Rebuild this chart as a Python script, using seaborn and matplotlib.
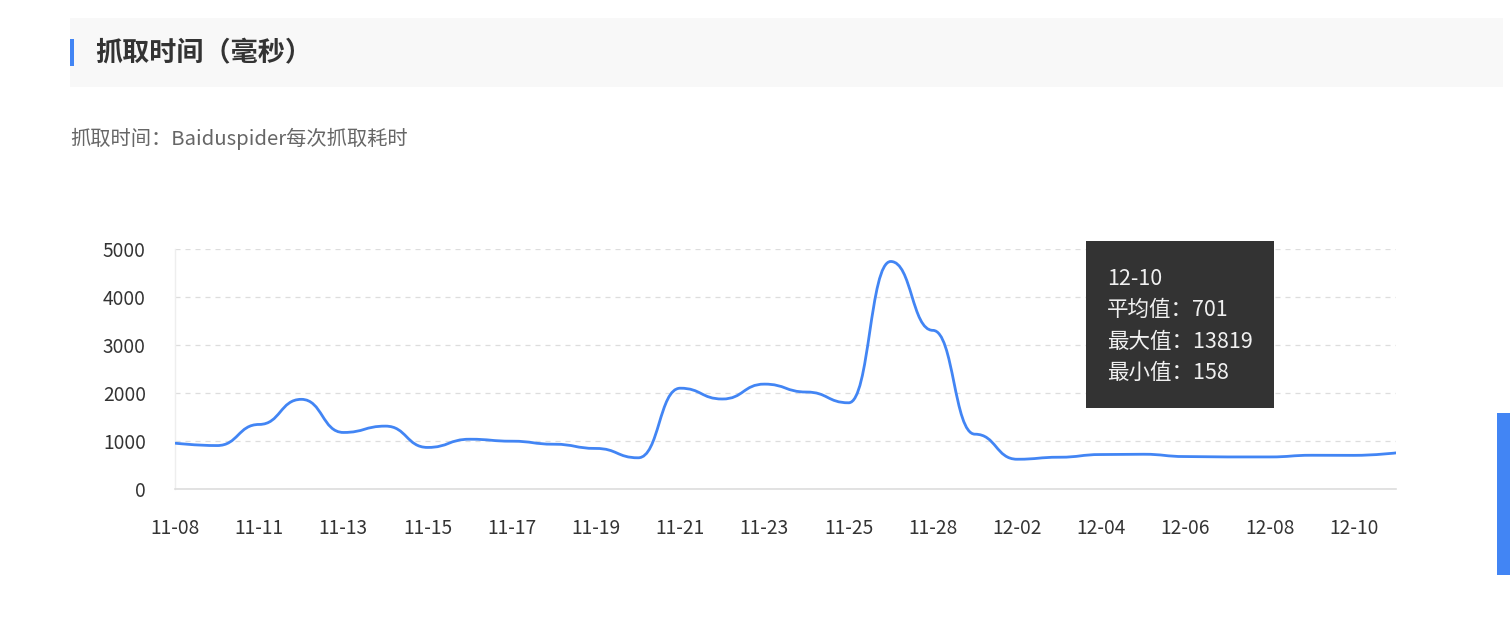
import numpy as np
import pandas as pd
import seaborn as sns
import matplotlib.pyplot as plt
from matplotlib.path import Path
from matplotlib.patches import PathPatch, Rectangle

# 数据（从图上读取的平均抓取时间，毫秒）
dates = ['11-08', '11-10', '11-11', '11-12', '11-13', '11-14', '11-15', '11-16',
         '11-17', '11-18', '11-19', '11-20', '11-21', '11-22', '11-23', '11-24',
         '11-25', '11-26', '11-28', '11-30', '12-02', '12-03', '12-04', '12-05',
         '12-06', '12-07', '12-08', '12-09', '12-10', '12-11']
avg_ms = [955, 905, 1345, 1868, 1178, 1310, 866, 1037,
          996, 933, 845, 650, 2100, 1875, 2185, 2020,
          1796, 4740, 3305, 1142, 620, 662, 718, 724,
          676, 668, 668, 703, 701, 752]
y_ticks = [0, 1000, 2000, 3000, 4000, 5000]

tip_date = '12-10'
tip_rows = [('平均值', 701), ('最大值', 13819), ('最小值', 158)]

BLUE = '#4285f4'
W, H = 1510, 634

sns.set_theme(style='white')
plt.rcParams['font.family'] = ['Noto Sans CJK SC', 'DejaVu Sans']

fig = plt.figure(figsize=(W / 100, H / 100), dpi=100)
fig.patch.set_facecolor('white')

# 标题栏
fig.add_artist(Rectangle((70 / W, 1 - 87 / H), 1433 / W, 69 / H,
                         transform=fig.transFigure, color='#f8f8f8', lw=0))
fig.add_artist(Rectangle((70 / W, 1 - 66 / H), 4 / W, 27 / H,
                         transform=fig.transFigure, color=BLUE, lw=0))
fig.text(95 / W, 1 - 53 / H, '抓取时间（毫秒）', fontsize=19.5, fontweight='bold',
         color='#333333', va='center', ha='left')
fig.text(70 / W, 1 - 139 / H, '抓取时间：Baiduspider每次抓取耗时', fontsize=14.6,
         color='#666666', va='center', ha='left')

# 折线图
ax = fig.add_axes([175 / W, 1 - 489 / H, (1396 - 175) / W, 240 / H])
df = pd.DataFrame({'idx': np.arange(len(dates)), 'avg': avg_ms})
sns.lineplot(data=df, x='idx', y='avg', ax=ax, color=BLUE, linewidth=2)

ax.set_xlim(0, len(dates) - 1)
ax.set_ylim(0, 5000)
ax.set_yticks(y_ticks)
ax.set_xticks(df['idx'][::2])
ax.set_xticklabels(dates[::2])
ax.set_xlabel('')
ax.set_ylabel('')
ax.tick_params(axis='both', length=0, labelsize=13.8, colors='#333333', pad=21)
ax.yaxis.grid(True, linestyle=(0, (4, 4)), color='#dddddd', linewidth=0.9)
ax.xaxis.grid(False)
for s in ['top', 'right']:
    ax.spines[s].set_visible(False)
ax.spines['bottom'].set_color('#dddddd')
ax.spines['left'].set_color('#eeeeee')
ax.spines['bottom'].set_linewidth(1.2)
ax.spines['left'].set_linewidth(1)

# 平滑曲线：每个点的切线水平（类似 echarts smoothMonotone='x'）
line = ax.lines[0]
xs, ys = line.get_data()
smooth = 0.5
verts = [(xs[0], ys[0])]
codes = [Path.MOVETO]
for i in range(1, len(xs)):
    dx = xs[i] - xs[i - 1]
    c0 = (xs[i - 1] + (dx * smooth if i > 1 else 0), ys[i - 1])
    c1 = (xs[i] - (dx * smooth if i < len(xs) - 1 else 0), ys[i])
    verts += [c0, c1, (xs[i], ys[i])]
    codes += [Path.CURVE4] * 3
line.set_visible(False)
ax.add_patch(PathPatch(Path(verts, codes), facecolor='none', edgecolor=BLUE,
                       lw=2, capstyle='round', joinstyle='round', zorder=3))

# 提示框
fig.add_artist(Rectangle((1086 / W, 1 - 408 / H), 188 / W, 167 / H,
                         transform=fig.transFigure, color='#333333', lw=0, zorder=10))
fig.text(1107 / W, 1 - 279 / H, tip_date, fontsize=15.5, color='#f0f0f0',
         va='center', ha='left', zorder=11)
for k, (name, val) in enumerate(tip_rows):
    fig.text(1107 / W, 1 - (310 + 31.5 * k) / H, f'{name}：{val}', fontsize=15.5,
             color='#f0f0f0', va='center', ha='left', zorder=11)

# 右侧蓝色条
fig.add_artist(Rectangle((1497 / W, 1 - 575 / H), 13 / W, 162 / H,
                         transform=fig.transFigure, color=BLUE, lw=0))

fig.savefig('out.png', dpi=100)
